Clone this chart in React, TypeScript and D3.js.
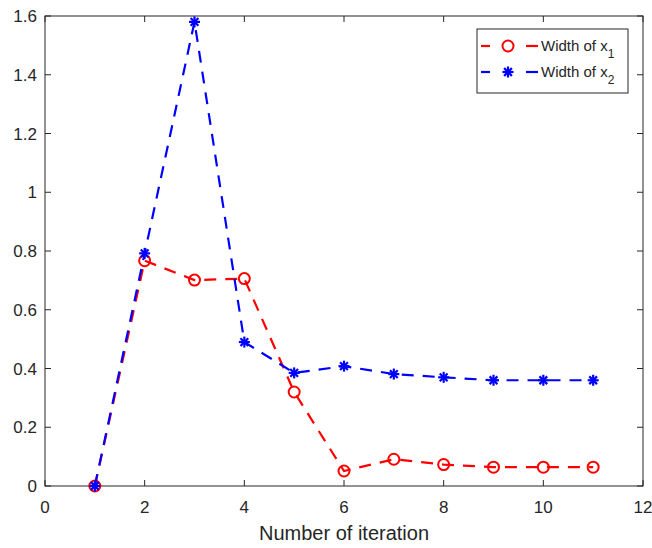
import React from "react";
import * as d3 from "d3";

const iterations = [1, 2, 3, 4, 5, 6, 7, 8, 9, 10, 11];
const widthX1 = [0, 0.767, 0.701, 0.706, 0.32, 0.051, 0.091, 0.073, 0.064, 0.064, 0.064];
const widthX2 = [0, 0.792, 1.58, 0.49, 0.385, 0.408, 0.381, 0.37, 0.36, 0.36, 0.36];
const xTicks = [0, 2, 4, 6, 8, 10, 12];
const yTicks = [0, 0.2, 0.4, 0.6, 0.8, 1, 1.2, 1.4, 1.6];
const seriesNames = ["Width of x", "Width of x"];
const seriesSubs = ["1", "2"];

const W = 652, H = 548;
const L = 45, R = 643, T = 16, B = 486;
const FONT = "'Liberation Sans', Arial, Helvetica, sans-serif";
const AX = "#262626";
const DASH = "12,9";

function Asterisk({ x, y, color, r = 5.5 }: { x: number; y: number; color: string; r?: number }) {
  const segs = [0, 45, 90, 135].map((a) => {
    const rad = (a * Math.PI) / 180;
    return (
      <line key={a} x1={x - r * Math.cos(rad)} y1={y - r * Math.sin(rad)} x2={x + r * Math.cos(rad)} y2={y + r * Math.sin(rad)} stroke={color} strokeWidth={2.2} />
    );
  });
  return <g>{segs}</g>;
}

export default function App() {
  const x = d3.scaleLinear().domain([0, 12]).range([L, R]);
  const y = d3.scaleLinear().domain([0, 1.6]).range([B, T]);
  const line = d3.line<number>().x((_, i) => x(iterations[i])).y((d) => y(d));
  const fmt = (v: number) => (v === 0 ? "0" : String(+v.toFixed(1)));

  return (
    <svg width={W} height={H} style={{ position: "absolute", left: 0, top: 0, background: "#fff" }}>
      <rect x={0} y={0} width={W} height={H} fill="#fff" />
      {xTicks.map((t) => (
        <g key={"x" + t}>
          <line x1={x(t)} x2={x(t)} y1={B} y2={B - 6} stroke={AX} strokeWidth={1} />
          <line x1={x(t)} x2={x(t)} y1={T} y2={T + 6} stroke={AX} strokeWidth={1} />
          <text x={x(t)} y={B + 27} textAnchor="middle" fontFamily={FONT} fontSize={17} fill={AX}>{t}</text>
        </g>
      ))}
      {yTicks.map((t) => (
        <g key={"y" + t}>
          <line x1={L} x2={L + 6} y1={y(t)} y2={y(t)} stroke={AX} strokeWidth={1} />
          <line x1={R} x2={R - 6} y1={y(t)} y2={y(t)} stroke={AX} strokeWidth={1} />
          <text x={L - 8} y={y(t) + 6} textAnchor="end" fontFamily={FONT} fontSize={17} fill={AX}>{fmt(t)}</text>
        </g>
      ))}
      <rect x={L} y={T} width={R - L} height={B - T} fill="none" stroke={AX} strokeWidth={1} />
      <text x={(L + R) / 2} y={540} textAnchor="middle" fontFamily={FONT} fontSize={20} fill={AX}>Number of iteration</text>

      <path d={line(widthX1) || ""} fill="none" stroke="#ff0000" strokeWidth={2.2} strokeDasharray={DASH} />
      {widthX1.map((v, i) => (
        <circle key={"r" + i} cx={x(iterations[i])} cy={y(v)} r={5.5} fill="none" stroke="#ff0000" strokeWidth={2} />
      ))}
      <path d={line(widthX2) || ""} fill="none" stroke="#0000ff" strokeWidth={2.2} strokeDasharray={DASH} />
      {widthX2.map((v, i) => (
        <Asterisk key={"b" + i} x={x(iterations[i])} y={y(v)} color="#0000ff" />
      ))}

      <rect x={477} y={29} width={151} height={64} fill="#fff" stroke={AX} strokeWidth={1} />
      {[0, 1].map((k) => {
        const ly = 46 + k * 26;
        const c = k === 0 ? "#ff0000" : "#0000ff";
        return (
          <g key={"lg" + k}>
            <line x1={481} x2={490} y1={ly} y2={ly} stroke={c} strokeWidth={2.2} />
            <line x1={526} x2={538} y1={ly} y2={ly} stroke={c} strokeWidth={2.2} />
            {k === 0 ? (
              <circle cx={508} cy={ly} r={5.5} fill="none" stroke={c} strokeWidth={2} />
            ) : (
              <Asterisk x={508} y={ly} color={c} />
            )}
            <text x={541} y={ly + 5} fontFamily={FONT} fontSize={15} fill={AX}>
              {seriesNames[k]}
              <tspan fontSize={12} dy={7}>{seriesSubs[k]}</tspan>
            </text>
          </g>
        );
      })}
    </svg>
  );
}
